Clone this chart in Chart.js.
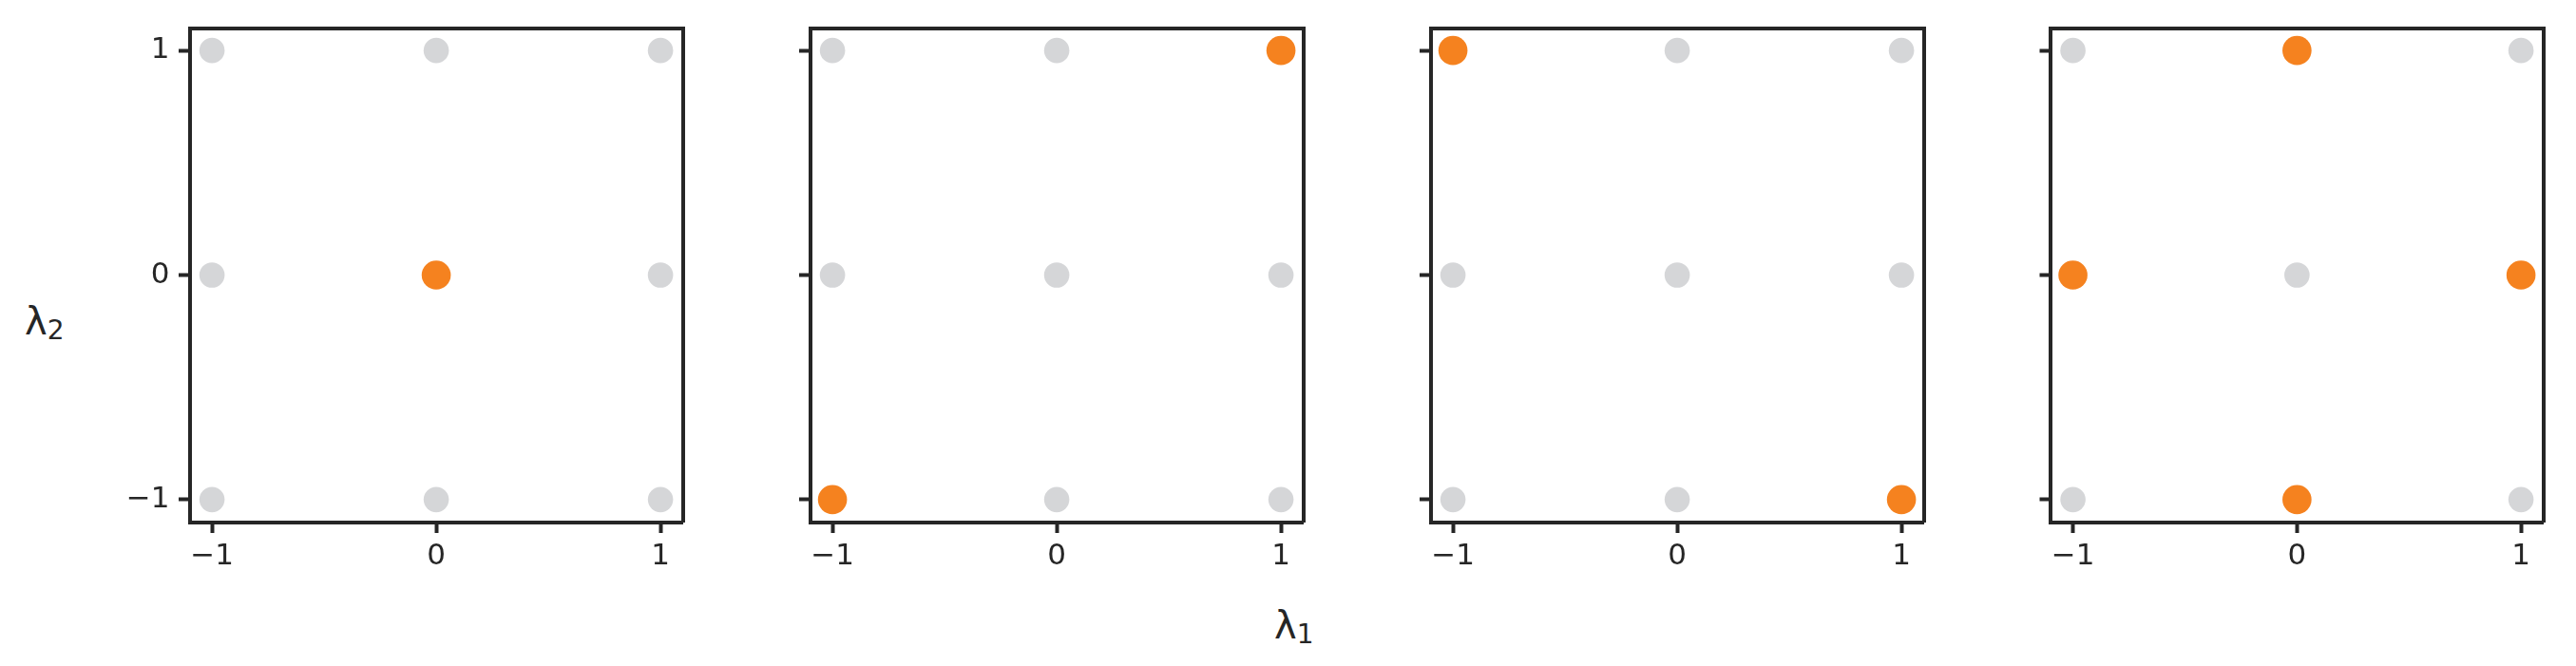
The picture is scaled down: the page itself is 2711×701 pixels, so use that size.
<!DOCTYPE html>
<html><head><meta charset="utf-8">
<script src="https://cdn.jsdelivr.net/npm/chart.js@4/dist/chart.umd.min.js"></script>
<style>
html,body{margin:0;padding:0;background:#fff;}
#wrap{position:relative;width:2711px;height:701px;overflow:hidden;background:#fff;}
#wrap canvas{position:absolute;}
.lab{position:absolute;font-family:"DejaVu Sans";font-size:40px;line-height:40px;color:#262626;white-space:nowrap;}
.lab sub{font-size:28px;line-height:28px;vertical-align:baseline;position:relative;top:5px;}
</style></head><body>
<div id="wrap">
<div class="lab" id="ylab" style="left:26px;top:318px;">λ<sub>2</sub></div>
<div class="lab" id="xlab" style="left:1341px;top:638px;">λ<sub>1</sub></div>
</div>
<script>
// ---- data ----
const gridX = [-1, 0, 1, -1, 0, 1, -1, 0, 1];
const gridY = [1, 1, 1, 0, 0, 0, -1, -1, -1];
const panel1X = [0];
const panel1Y = [0];
const panel2X = [-1, 1];
const panel2Y = [-1, 1];
const panel3X = [-1, 1];
const panel3Y = [1, -1];
const panel4X = [0, -1, 1, 0];
const panel4Y = [1, 0, 0, -1];
const tickValues = [-1, 0, 1];
const tickLabels = ['\u22121', '0', '1'];
const axisMin = -1.1, axisMax = 1.1;

// ---- layout / style ----
const INK = '#262626';
const GRAY = '#d5d6d8';
const ORANGE = '#f5821f';
const FONT = {family: 'DejaVu Sans', size: 31};
const panelLefts = [199.5, 852.5, 1505.5, 2158];
const PANEL_W = 522;
const TOP = 29.5, BOTTOM = 549.5, CANVAS_H = 620;
const LINE_W = 4;

const wrap = document.getElementById('wrap');
const toPts = (xs, ys) => xs.map((x, k) => ({x: x, y: ys[k]}));
const setTicks = s => { s.ticks = tickValues.map(v => ({value: v})); };
const tickText = v => { const i = tickValues.indexOf(v); return i >= 0 ? tickLabels[i] : ''; };

function makePanel(i, hx, hy) {
  const P = panelLefts[i];
  const cLeft = Math.floor(P) - 150;
  const yW = P - cLeft;
  const W = Math.ceil(yW + PANEL_W + 12);
  const canvas = document.createElement('canvas');
  canvas.style.left = cLeft + 'px';
  canvas.style.top = '0px';
  canvas.style.width = W + 'px';
  canvas.style.height = CANVAS_H + 'px';
  canvas.width = W; canvas.height = CANVAS_H;
  wrap.appendChild(canvas);
  const tickGrid = {display: true, drawOnChartArea: false, drawTicks: true, tickLength: 11.5, tickWidth: LINE_W, tickColor: INK};
  const border = {display: true, width: LINE_W, color: INK};
  new Chart(canvas, {
    type: 'scatter',
    data: {datasets: [
      {data: toPts(hx, hy), backgroundColor: ORANGE, borderWidth: 0, pointRadius: 15.3, pointHoverRadius: 15.3, clip: false},
      {data: toPts(gridX, gridY), backgroundColor: GRAY, borderWidth: 0, pointRadius: 13.3, pointHoverRadius: 13.3, clip: false}
    ]},
    options: {
      responsive: false, animation: false, devicePixelRatio: 1, events: [],
      layout: {padding: {left: 0, top: TOP, right: W - yW - PANEL_W, bottom: 0}},
      plugins: {legend: {display: false}, tooltip: {enabled: false}},
      scales: {
        x: {type: 'linear', position: 'bottom', min: axisMin, max: axisMax,
            afterBuildTicks: setTicks, afterFit: s => { s.height = CANVAS_H - BOTTOM; },
            grid: tickGrid, border: border,
            ticks: {color: INK, font: FONT, padding: 6, maxRotation: 0, autoSkip: false, callback: tickText}},
        y: {type: 'linear', position: 'left', min: axisMin, max: axisMax,
            afterBuildTicks: setTicks, afterFit: s => { s.width = yW; },
            grid: tickGrid, border: border,
            ticks: {display: i === 0, color: INK, font: FONT, padding: 9.5, autoSkip: false, callback: tickText}},
        x2: {type: 'linear', position: 'top', min: axisMin, max: axisMax,
            afterFit: s => { s.height = 0; },
            grid: {display: false}, border: border, ticks: {display: false}},
        y2: {type: 'linear', position: 'right', min: axisMin, max: axisMax,
            afterFit: s => { s.width = 0; },
            grid: {display: false}, border: border, ticks: {display: false}}
      }
    }
  });
}

makePanel(0, panel1X, panel1Y);
makePanel(1, panel2X, panel2Y);
makePanel(2, panel3X, panel3Y);
makePanel(3, panel4X, panel4Y);
</script>
</body></html>
